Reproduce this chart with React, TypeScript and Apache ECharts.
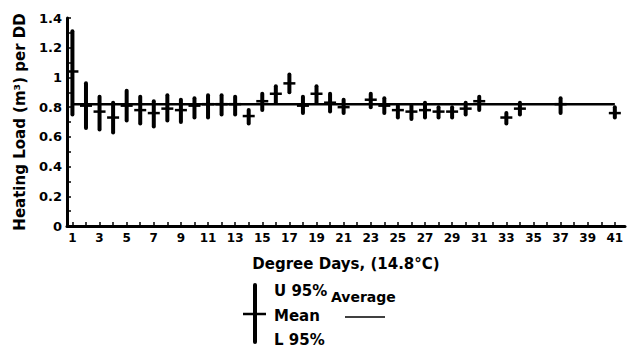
import React, { useEffect, useRef } from "react";
import * as echarts from "echarts";

const days = [1, 2, 3, 4, 5, 6, 7, 8, 9, 10, 11, 12, 13, 14, 15, 16, 17, 18, 19, 20, 21, 23, 24, 25, 26, 27, 28, 29, 30, 31, 33, 34, 37, 41];
const upper95 = [1.31, 0.96, 0.87, 0.83, 0.91, 0.87, 0.84, 0.88, 0.85, 0.86, 0.88, 0.88, 0.87, 0.78, 0.89, 0.94, 1.02, 0.87, 0.94, 0.89, 0.85, 0.89, 0.86, 0.81, 0.81, 0.83, 0.8, 0.8, 0.83, 0.87, 0.76, 0.83, 0.86, 0.8];
const meanValues = [1.04, 0.81, 0.77, 0.73, 0.81, 0.78, 0.76, 0.79, 0.78, 0.81, 0.82, 0.82, 0.82, 0.74, 0.84, 0.89, 0.96, 0.81, 0.89, 0.83, 0.8, 0.85, 0.81, 0.78, 0.77, 0.78, 0.77, 0.77, 0.79, 0.84, 0.73, 0.79, 0.82, 0.76];
const lower95 = [0.75, 0.66, 0.65, 0.63, 0.71, 0.69, 0.67, 0.71, 0.7, 0.73, 0.73, 0.75, 0.75, 0.69, 0.78, 0.83, 0.9, 0.76, 0.83, 0.77, 0.76, 0.8, 0.76, 0.73, 0.72, 0.73, 0.73, 0.73, 0.75, 0.78, 0.69, 0.75, 0.76, 0.73];
const averageLine = [[1, 0.82], [41, 0.82]];
const xLabelValues = [1, 3, 5, 7, 9, 11, 13, 15, 17, 19, 21, 23, 25, 27, 29, 31, 33, 35, 37, 39, 41];
const xTickValues = Array.from({ length: 41 }, (_, i) => i + 1);

const FONT = "'DejaVu Sans', sans-serif";

export default function App() {
  const ref = useRef<HTMLDivElement>(null);
  useEffect(() => {
    if (!ref.current) return;
    const chart = echarts.init(ref.current, undefined, { renderer: "svg" });
    const barData = days.map((d, i) => [d, lower95[i], upper95[i], meanValues[i]]);
    chart.setOption({
      animation: false,
      backgroundColor: "#fff",
      grid: { left: 67, right: 4, top: 18, bottom: 126, outerBoundsMode: "none" },
      xAxis: {
        type: "value",
        min: 0.6,
        max: 41.75,
        name: "Degree Days, (14.8°C)",
        nameLocation: "middle",
        nameGap: 30,
        nameTextStyle: { fontFamily: FONT, fontWeight: "bold", fontSize: 15, color: "#000" },
        axisLine: { show: true, lineStyle: { color: "#000", width: 3 } },
        axisTick: { show: true, inside: true, length: 4, customValues: xTickValues, lineStyle: { color: "#000", width: 1.5 } },
        axisLabel: { customValues: xLabelValues, margin: 6, fontFamily: FONT, fontWeight: "bold", fontSize: 12, color: "#000" },
        splitLine: { show: false },
      },
      yAxis: {
        type: "value",
        min: 0,
        max: 1.4,
        interval: 0.1,
        name: "Heating Load (m³) per DD",
        nameLocation: "middle",
        nameGap: 40,
        nameTextStyle: { fontFamily: FONT, fontWeight: "bold", fontSize: 15, color: "#000" },
        axisLine: { show: true, lineStyle: { color: "#000", width: 3 } },
        axisTick: { show: true, inside: true, length: 4, lineStyle: { color: "#000", width: 1.5 } },
        axisLabel: {
          margin: 5,
          fontFamily: FONT,
          fontWeight: "bold",
          fontSize: 13,
          color: "#000",
          formatter: (v: number) => {
            const t = Math.round(v * 10);
            return t % 2 === 0 ? String(t / 10) : "";
          },
        },
        splitLine: { show: false },
      },
      series: [
        {
          type: "line",
          data: averageLine,
          symbol: "none",
          lineStyle: { color: "#000", width: 2.5 },
          z: 2,
        },
        {
          type: "custom",
          data: barData,
          encode: { x: 0, y: [1, 2, 3] },
          z: 3,
          renderItem: (params: any, api: any) => {
            const x = api.value(0);
            const pLo = api.coord([x, api.value(1)]);
            const pHi = api.coord([x, api.value(2)]);
            const pM = api.coord([x, api.value(3)]);
            return {
              type: "group",
              children: [
                {
                  type: "line",
                  shape: { x1: pLo[0], y1: pLo[1], x2: pHi[0], y2: pHi[1] },
                  style: { stroke: "#000", lineWidth: 4, lineCap: "round" },
                },
                {
                  type: "line",
                  shape: { x1: pM[0] - 6, y1: pM[1], x2: pM[0] + 6, y2: pM[1] },
                  style: { stroke: "#000", lineWidth: 2.5 },
                },
              ],
            };
          },
        },
      ],
      graphic: [
        { type: "line", shape: { x1: 255, y1: 285, x2: 255, y2: 342 }, style: { stroke: "#000", lineWidth: 4, lineCap: "round" } },
        { type: "line", shape: { x1: 243, y1: 314, x2: 266, y2: 314 }, style: { stroke: "#000", lineWidth: 2.5 } },
        { type: "text", x: 274, y: 291, style: { text: "U 95%", font: `bold 15px ${FONT}`, fill: "#000", textVerticalAlign: "middle" } },
        { type: "text", x: 331, y: 297, style: { text: "Average", font: `bold 14px ${FONT}`, fill: "#000", textVerticalAlign: "middle" } },
        { type: "text", x: 274, y: 316, style: { text: "Mean", font: `bold 15px ${FONT}`, fill: "#000", textVerticalAlign: "middle" } },
        { type: "line", shape: { x1: 345, y1: 317, x2: 385, y2: 317 }, style: { stroke: "#000", lineWidth: 1.5 } },
        { type: "text", x: 274, y: 340, style: { text: "L 95%", font: `bold 15px ${FONT}`, fill: "#000", textVerticalAlign: "middle" } },
      ],
    });
    return () => chart.dispose();
  }, []);
  return <div ref={ref} style={{ width: 629, height: 352, position: "absolute", left: 0, top: 0 }} />;
}
